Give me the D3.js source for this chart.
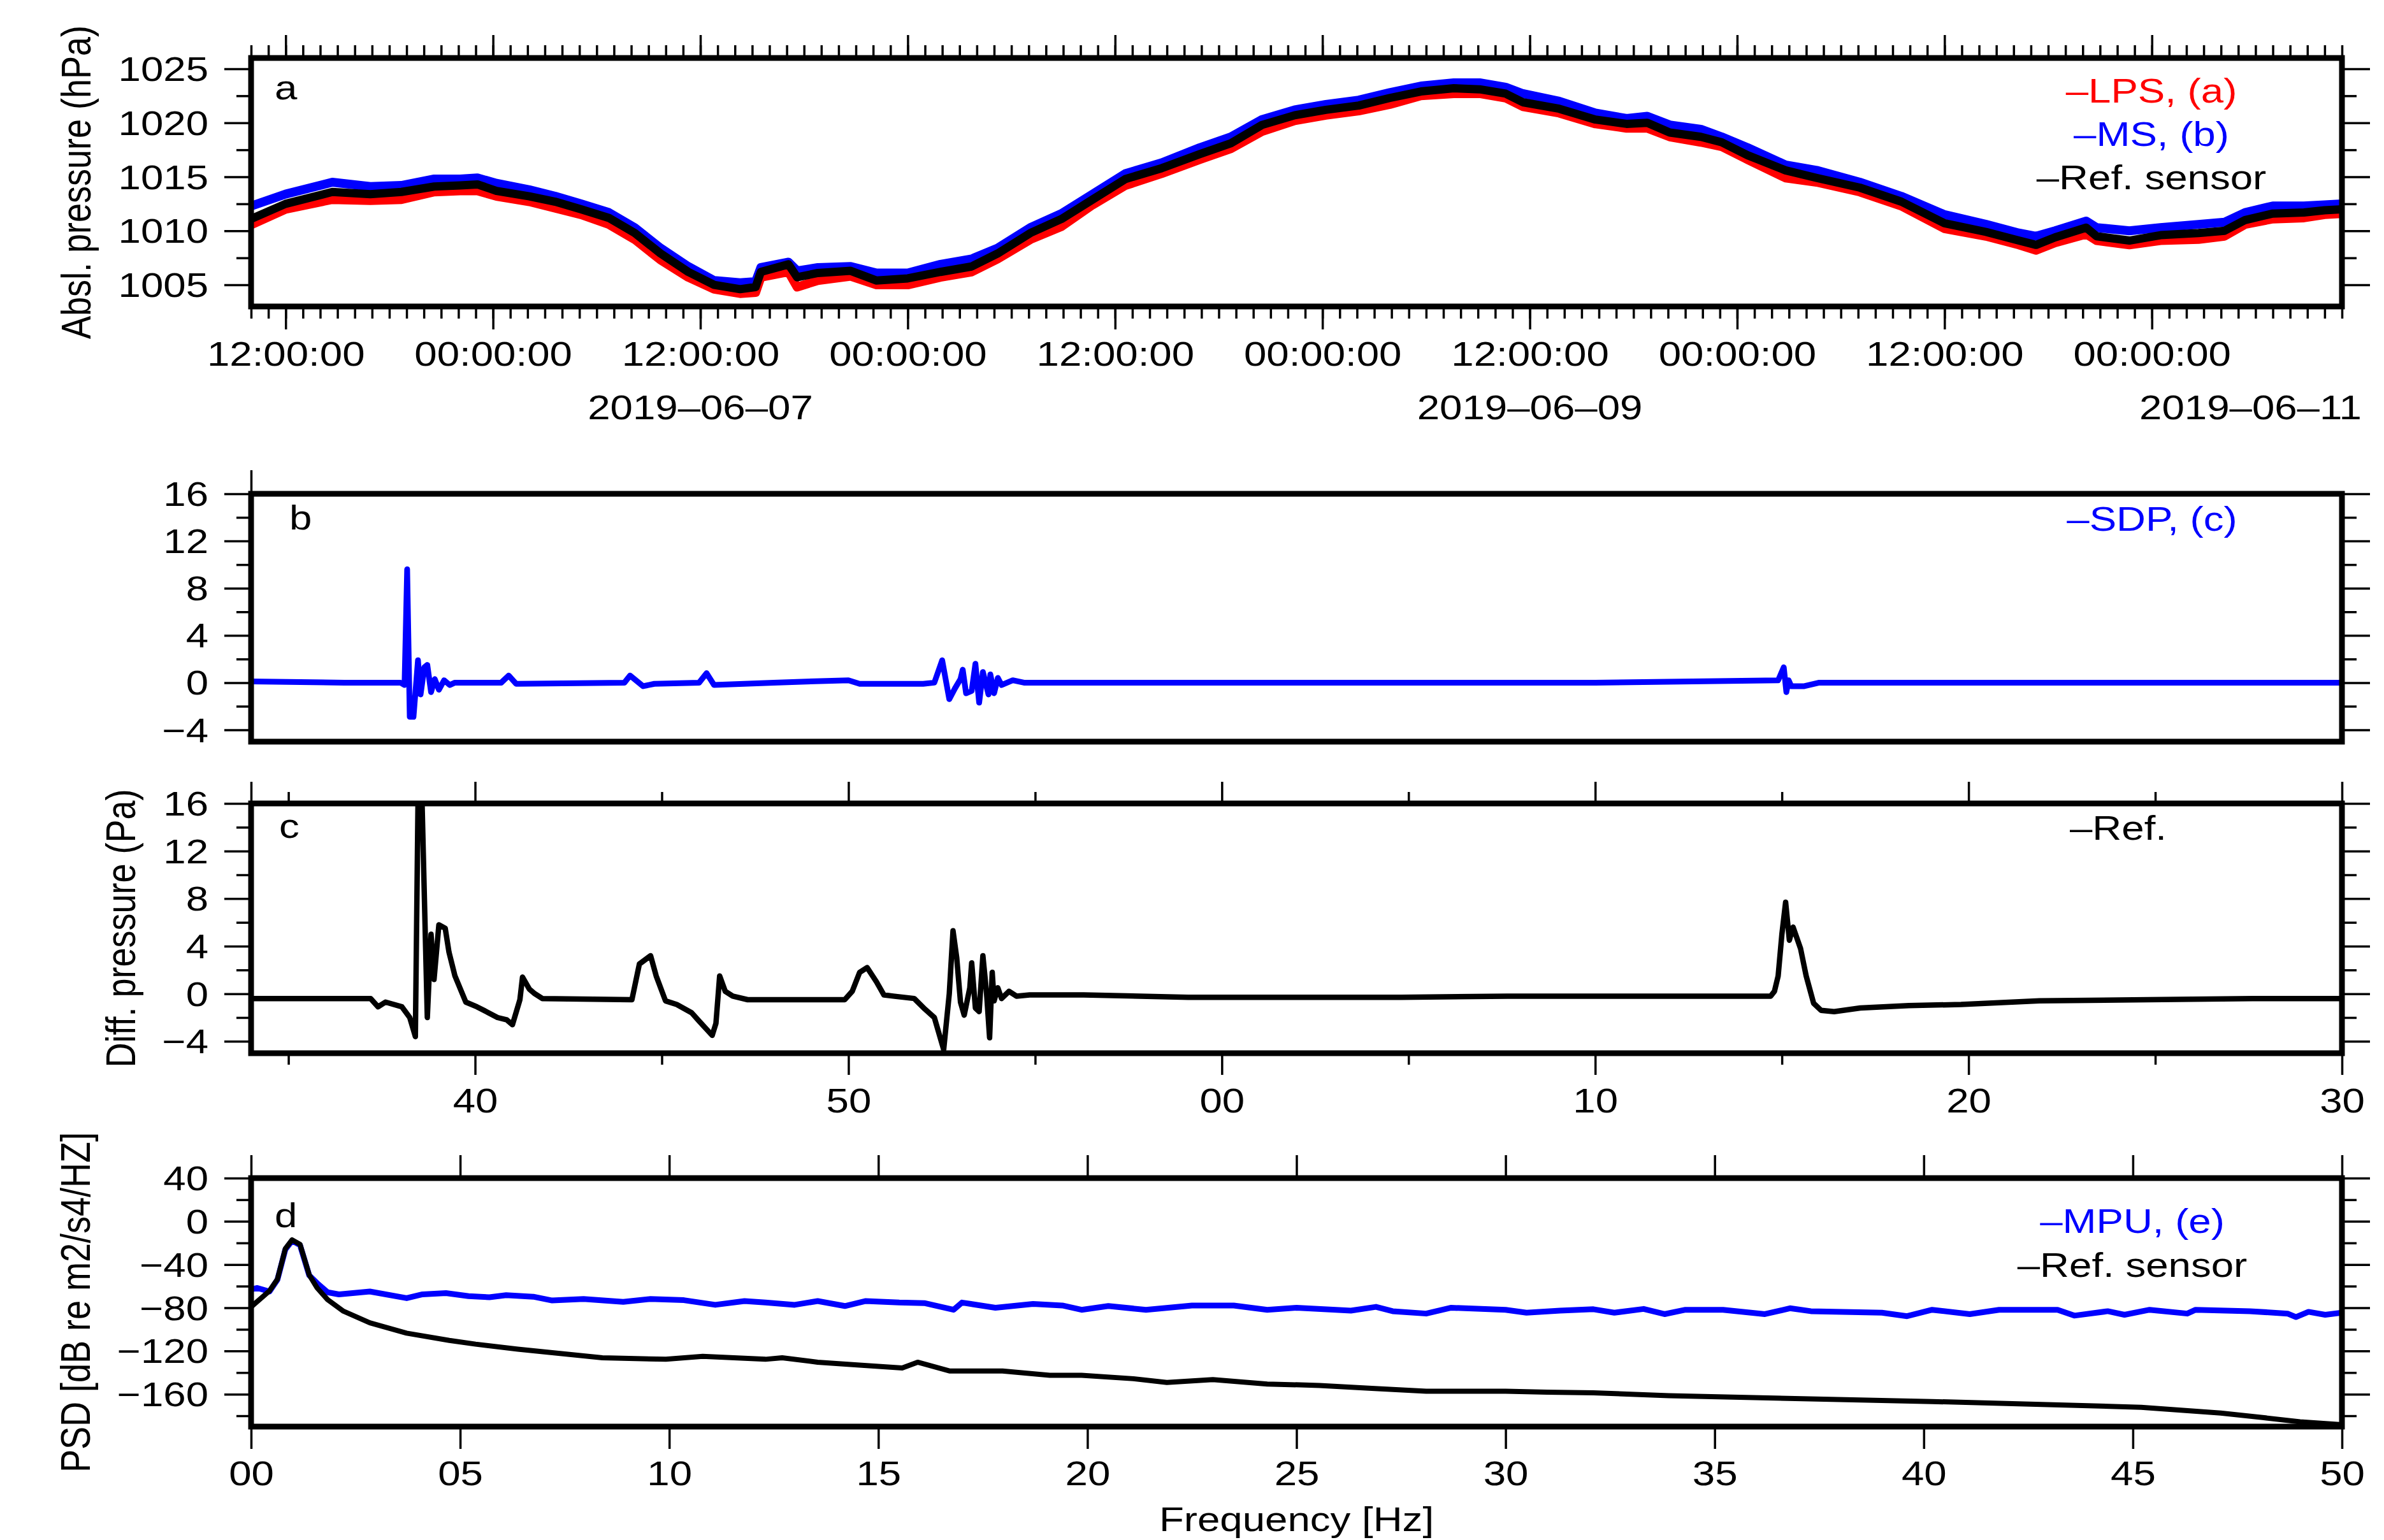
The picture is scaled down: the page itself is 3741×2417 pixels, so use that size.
<!DOCTYPE html>
<html>
<head>
<meta charset="utf-8">
<script src="https://cdn.jsdelivr.net/npm/d3@7"></script>
<style>
  body { margin: 0; background: #fff; }
  svg text { font-family: "Liberation Sans", Arial, Helvetica, sans-serif; }
</style>
</head>
<body>
<div id="chart"></div>
<script>
// ---- panel a: absolute pressure, hours since 2019-06-06 10:00 UTC
const absHours = [0, 2.0, 4.7, 6.9, 8.7, 10.6, 12.1, 13.1, 14.2, 16.1, 17.6, 19.1, 20.7, 22.2, 23.7, 25.3, 26.8, 28.3, 29.2, 29.5,
  31.1, 31.6, 32.8, 34.7, 36.2, 38.0, 39.9, 41.7, 43.2, 45.1, 46.9, 48.7, 50.6, 52.7, 54.9, 56.7, 58.5, 60.4, 62.2, 64.1,
  65.9, 67.7, 69.6, 71.1, 72.6, 73.6, 75.7, 77.8, 79.6, 80.8, 82.1, 83.9, 85.1, 86.6, 88.8, 90.6, 93.1, 95.5, 98.0, 100.4,
  102.3, 103.3, 104.4, 106.2, 106.8, 108.7, 110.5, 112.7, 114.2, 115.4, 117.0, 118.8, 120.0, 121.0];
const refAbs = [1011.1, 1012.5, 1013.6, 1013.4, 1013.6, 1014.1, 1014.2, 1014.3, 1013.7, 1013.2, 1012.7, 1012.0, 1011.2, 1009.8, 1007.9, 1006.2, 1005.0, 1004.6, 1004.8, 1006.2,
  1006.9, 1005.7, 1006.1, 1006.3, 1005.4, 1005.6, 1006.2, 1006.7, 1007.9, 1009.8, 1011.1, 1012.9, 1014.8, 1015.8, 1017.1, 1018.1, 1019.8, 1020.7, 1021.2, 1021.6,
  1022.3, 1022.9, 1023.2, 1023.1, 1022.7, 1021.9, 1021.3, 1020.3, 1019.9, 1020.0, 1019.1, 1018.7, 1018.2, 1017.0, 1015.6, 1014.9, 1014.0, 1012.7, 1010.7, 1009.9,
  1009.1, 1008.7, 1009.4, 1010.3, 1009.5, 1009.1, 1009.6, 1009.8, 1010.0, 1011.0, 1011.6, 1011.7, 1011.9, 1012.0];
const lpsAbs = [1010.55, 1012.0, 1012.9, 1012.8, 1012.9, 1013.6, 1013.7, 1013.7, 1013.2, 1012.7, 1012.1, 1011.5, 1010.6, 1009.2, 1007.3, 1005.7, 1004.6, 1004.2, 1004.3, 1005.7,
  1006.2, 1004.8, 1005.4, 1005.8, 1005.0, 1005.0, 1005.7, 1006.2, 1007.4, 1009.2, 1010.4, 1012.4, 1014.2, 1015.3, 1016.6, 1017.6, 1019.2, 1020.2, 1020.7, 1021.1,
  1021.7, 1022.5, 1022.7, 1022.7, 1022.3, 1021.5, 1020.9, 1019.9, 1019.5, 1019.5, 1018.7, 1018.2, 1017.8, 1016.6, 1014.9, 1014.5, 1013.6, 1012.3, 1010.2, 1009.5,
  1008.7, 1008.2, 1008.9, 1009.7, 1009.1, 1008.7, 1009.1, 1009.2, 1009.5, 1010.6, 1011.1, 1011.2, 1011.5, 1011.6];
const msAbs = [1012.3, 1013.4, 1014.5, 1014.1, 1014.2, 1014.8, 1014.8, 1014.9, 1014.4, 1013.8, 1013.2, 1012.5, 1011.7, 1010.3, 1008.4, 1006.7, 1005.4, 1005.2, 1005.3, 1006.6,
  1007.1, 1006.3, 1006.6, 1006.7, 1006.1, 1006.1, 1006.9, 1007.4, 1008.4, 1010.3, 1011.6, 1013.4, 1015.3, 1016.3, 1017.7, 1018.7, 1020.3, 1021.2, 1021.7, 1022.1,
  1022.8, 1023.4, 1023.7, 1023.7, 1023.3, 1022.7, 1022.0, 1020.9, 1020.4, 1020.6, 1019.8, 1019.4, 1018.7, 1017.7, 1016.1, 1015.6, 1014.5, 1013.2, 1011.5, 1010.6,
  1009.8, 1009.5, 1010.0, 1010.9, 1010.3, 1010.0, 1010.3, 1010.6, 1010.8, 1011.7, 1012.3, 1012.3, 1012.4, 1012.5];

// ---- panel b: SDP differential pressure (minutes, labels mod 60)
const sdpMin = [34, 36.5, 38.0, 38.11, 38.18, 38.25, 38.35, 38.47, 38.54, 38.64, 38.72, 38.82, 38.92, 39.03, 39.17, 39.32, 39.46, 40.7, 40.9, 41.1,
  44.0, 44.15, 44.5, 44.8, 46.0, 46.2, 46.4, 48.0, 50.0, 50.3, 52.0, 52.3, 52.51, 52.7, 52.85, 53.0, 53.06, 53.15, 53.3, 53.4,
  53.5, 53.6, 53.75, 53.8, 53.9, 54.0, 54.1, 54.4, 54.7, 60, 65, 70, 74.9, 75.05, 75.12, 75.18, 75.25, 75.4, 75.6, 76.0, 80, 85, 90];
const sdpPa = [0.1, 0.0, 0.0, -0.2, 9.6, -2.9, -2.9, 1.9, -1.0, 1.3, 1.5, -0.8, 0.3, -0.6, 0.2, -0.2, 0.0, 0.0, 0.6, -0.1,
  0.0, 0.6, -0.3, -0.1, 0.0, 0.8, -0.2, 0.0, 0.2, -0.1, -0.1, 0.0, 1.9, -1.4, -0.5, 0.3, 1.1, -0.9, -0.7, 1.6,
  -1.7, 0.9, -1.0, 0.7, -0.9, 0.4, -0.2, 0.2, 0.0, 0.0, 0.0, 0.0, 0.2, 1.3, -0.8, 0.2, -0.3, -0.3, -0.3, 0.0, 0.0, 0.0, 0.0];

// ---- panel c: reference differential pressure
const refMin = [34, 37.2, 37.4, 37.6, 38.04, 38.25, 38.4, 38.47, 38.58, 38.72, 38.82, 38.9, 39.03, 39.2, 39.3, 39.46, 39.75, 40.05, 40.3, 40.6,
  40.85, 41.0, 41.2, 41.27, 41.45, 41.6, 41.8, 44.2, 44.4, 44.7, 44.85, 45.1, 45.4, 45.8, 46.0, 46.35, 46.45, 46.55, 46.7, 46.9,
  47.3, 49.9, 50.1, 50.3, 50.5, 50.75, 50.95, 51.2, 51.76, 52.05, 52.3, 52.55, 52.7, 52.8, 52.9, 53.0, 53.1, 53.25, 53.3, 53.4,
  53.5, 53.6, 53.7, 53.78, 53.85, 53.9, 54.0, 54.1, 54.3, 54.5, 54.85, 56.3, 59.1, 62.0, 64.8, 67.65, 70.0, 74.7, 74.8, 74.9,
  75.0, 75.1, 75.2, 75.3, 75.5, 75.65, 75.85, 76.05, 76.4, 77.1, 78.4, 79.8, 81.9, 84.8, 87.6, 90];
const refPa = [-0.4, -0.4, -1.1, -0.7, -1.1, -2.0, -3.6, 16.0, 16.0, -2.0, 5.0, 1.2, 5.8, 5.5, 3.5, 1.5, -0.7, -1.1, -1.5, -2.0,
  -2.2, -2.6, -0.5, 1.4, 0.4, 0.0, -0.4, -0.5, 2.5, 3.2, 1.5, -0.6, -0.9, -1.6, -2.3, -3.5, -2.5, 1.5, 0.2, -0.2,
  -0.5, -0.5, 0.2, 1.8, 2.2, 1.0, -0.1, -0.2, -0.4, -1.3, -2.0, -4.7, 0.0, 5.3, 3.0, -0.7, -1.8, 0.5, 2.6, -1.2,
  -1.5, 3.2, 0.0, -3.7, 1.8, -0.6, 0.5, -0.4, 0.2, -0.2, -0.1, -0.1, -0.3, -0.3, -0.3, -0.2, -0.2, -0.2, 0.2, 1.5,
  5.0, 7.7, 4.5, 5.6, 3.8, 1.5, -0.8, -1.4, -1.5, -1.2, -1.0, -0.9, -0.6, -0.5, -0.4, -0.4];

// ---- panel d: PSD
const refFreq = [0.0, 0.44, 0.63, 0.82, 0.98, 1.17, 1.39, 1.58, 1.83, 2.21, 2.84, 3.72, 4.74, 5.37, 6.38, 7.39, 8.4, 9.92, 10.8, 12.3,
  12.7, 13.55, 14.55, 15.57, 15.94, 16.7, 17.97, 19.1, 19.86, 21.1, 21.9, 23.0, 24.3, 25.55, 26.8, 28.1, 30.0, 31.0, 32.1, 33.9,
  40.2, 45.2, 47.1, 48.1, 49.0, 50.0];
const refPsd = [-79.2, -64.4, -53.6, -25.3, -17.2, -21.3, -49.6, -61.7, -72.5, -83.2, -94.0, -103.5, -110.2, -113.7, -118.3, -122.3, -126.3, -127.7, -125.0, -127.7,
  -126.3, -130.4, -133.1, -135.8, -130.4, -138.5, -138.5, -142.5, -142.5, -145.7, -149.2, -146.5, -150.6, -151.9, -154.6, -157.3, -157.3, -158.1, -158.7, -161.4,
  -166.8, -172.1, -177.5, -181.6, -185.6, -188.3];
const mpuFreq = [0.0, 0.15, 0.44, 0.63, 0.82, 0.98, 1.17, 1.39, 1.6, 1.83, 2.1, 2.84, 3.72, 4.1, 4.66, 5.2, 5.7, 6.1, 6.75, 7.2,
  7.95, 8.9, 9.55, 10.35, 11.1, 11.8, 12.3, 13.0, 13.55, 14.2, 14.7, 15.5, 16.1, 16.8, 17.0, 17.8, 18.7, 19.4, 19.86, 20.5,
  21.4, 22.5, 23.5, 24.3, 25.0, 26.3, 26.9, 27.3, 28.1, 28.7, 30.0, 30.5, 31.3, 32.1, 32.6, 33.3, 33.8, 34.3, 35.2, 36.2,
  36.8, 37.3, 39.0, 39.6, 40.2, 41.1, 41.8, 43.2, 43.6, 44.4, 44.8, 45.4, 46.3, 46.5, 47.8, 48.7, 48.9, 49.2, 49.6, 50.0];
const mpuPsd = [-63, -61.7, -65, -54, -26, -18, -22, -50, -58, -65.7, -67.6, -65, -71.1, -67.6, -66.5, -69.2, -70.3, -68.4, -69.8, -73.3,
  -71.9, -74.6, -71.9, -73, -77.3, -73.8, -75.2, -77.3, -73.8, -78.4, -73.8, -75.2, -75.7, -81.9, -75.2, -80, -76.5, -77.9, -81.9, -78.4,
  -81.9, -77.9, -77.9, -81.9, -80, -82.7, -79.2, -83.2, -85.4, -80, -81.9, -84.6, -82.7, -81.4, -84.6, -81.1, -85.9, -81.9, -81.9, -85.9,
  -80.5, -83.2, -84.6, -87.8, -81.9, -85.9, -81.9, -81.9, -87.3, -83.2, -86.5, -81.9, -85.4, -81.9, -83.2, -85.4, -88.6, -83.8, -86.5, -84.6];

// ---- tick values / labels
const absTicks = [1005, 1010, 1015, 1020, 1025];
const absMinor = [1007.5, 1012.5, 1017.5, 1022.5];
const diffTicks = [-4, 0, 4, 8, 12, 16];
const diffMinor = [-2, 2, 6, 10, 14];
const minuteMajor = [40, 50, 60, 70, 80, 90];
const minuteMinor = [35, 45, 55, 65, 75, 85];
const psdTicks = [-160, -120, -80, -40, 0, 40];
const psdMinor = [-180, -140, -100, -60, -20, 20];
const freqTicks = [0, 5, 10, 15, 20, 25, 30, 35, 40, 45, 50];
const dateLabels = ['2019-06-07T12:00Z', '2019-06-09T12:00Z', '2019-06-11T12:00Z'];

const W = 3741, H = 2417;
const SX = 1.2;      // the lettering in the original is stretched horizontally
const FS = 53;
const X0 = 394, X1 = 3675;
const LW_BOX = 9, LW_TICK = 3.5;

const svg = d3.select('#chart').append('svg')
  .attr('width', W)
  .attr('height', H)
  .style('background', '#fff');

const t0 = Date.UTC(2019, 5, 6, 10);
const xA = d3.scaleUtc()
  .domain([new Date(t0), new Date(t0 + 121 * 3600e3)])
  .range([X0, X1]);
const xMin = d3.scaleLinear().domain([34, 90]).range([X0, X1]);
const xF = d3.scaleLinear().domain([0, 50]).range([X0, X1]);

const yA = d3.scaleLinear().domain([1003, 1026]).range([481, 91]);
const yB = d3.scaleLinear().domain([-5, 16]).range([1164, 775]);
const yC = d3.scaleLinear().domain([-5, 16]).range([1653, 1261]);
const yD = d3.scaleLinear().domain([-190, 40]).range([2239, 1849]);

const minuteFmt = d => String(d % 60).padStart(2, '0');

// axis helper: draws ticks (no domain line) and stretches the labels
function axis(gen, x, y, opts = {}) {
  const g = svg.append('g').attr('transform', `translate(${x},${y})`).call(gen);
  g.select('.domain').remove();
  g.selectAll('.tick line').attr('stroke', '#000').attr('stroke-width', LW_TICK);
  const txt = g.selectAll('.tick text')
    .attr('font-size', FS)
    .style('fill', '#000')
    .attr('transform', `scale(${SX},1)`);
  if (opts.bottom != null) txt.attr('y', opts.bottom).attr('dy', 0);
  if (opts.left != null) txt.attr('x', -opts.left / SX).attr('dy', '0.35em');
  return g;
}

function yAxes(scale, major, minor, fmt) {
  axis(d3.axisLeft(scale).tickValues(minor).tickSize(23).tickFormat(''), X0, 0);
  axis(d3.axisLeft(scale).tickValues(major).tickSize(42).tickFormat(fmt), X0, 0, { left: X0 - 327 });
  axis(d3.axisRight(scale).tickValues(minor).tickSize(23).tickFormat(''), X1, 0);
  axis(d3.axisRight(scale).tickValues(major).tickSize(44).tickFormat(''), X1, 0);
}

function clip(id, scale) {
  const [b, t] = scale.range();
  svg.append('clipPath').attr('id', id)
    .append('rect').attr('x', X0).attr('y', t).attr('width', X1 - X0).attr('height', b - t);
}

function series(xs, ys, xScale, yScale, color, width, clipId) {
  const pts = xs.map((v, i) => [v, ys[i]]);
  svg.append('path')
    .datum(pts)
    .attr('clip-path', `url(#${clipId})`)
    .attr('fill', 'none')
    .attr('stroke', color)
    .attr('stroke-width', width)
    .attr('stroke-linejoin', 'round')
    .attr('stroke-linecap', 'round')
    .attr('d', d3.line().x(d => xScale(d[0])).y(d => yScale(d[1])));
}

function box(scale) {
  const [b, t] = scale.range();
  svg.append('rect')
    .attr('x', X0).attr('y', t).attr('width', X1 - X0).attr('height', b - t)
    .attr('fill', 'none').attr('stroke', '#000').attr('stroke-width', LW_BOX);
}

function label(text, x, y, color = '#000', anchor = 'start') {
  return svg.append('text')
    .attr('transform', `translate(${x},${y}) scale(${SX},1)`)
    .attr('text-anchor', anchor)
    .attr('font-size', FS)
    .style('fill', color)
    .text(text);
}

function yTitle(text, x, y) {
  svg.append('text')
    .attr('transform', `translate(${x},${y}) scale(${SX},1) rotate(-90)`)
    .attr('text-anchor', 'middle')
    .attr('font-size', 54)
    .style('fill', '#000')
    .text(text);
}

// ================= panel a =================
clip('clip-a', yA);
const hourDate = h => new Date(t0 + h * 3600e3);
const absX = absHours.map(hourDate);
series(absX, lpsAbs, xA, yA, '#ff0000', 14, 'clip-a');
series(absX, msAbs, xA, yA, '#0000ff', 14, 'clip-a');
series(absX, refAbs, xA, yA, '#000000', 13, 'clip-a');
box(yA);

const hourly = xA.ticks(d3.utcHour.every(1));
const halfDay = xA.ticks(d3.utcHour.every(12));
axis(d3.axisBottom(xA).tickValues(hourly).tickSize(19).tickFormat(''), 0, yA.range()[0]);
axis(d3.axisBottom(xA).tickValues(halfDay).tickSize(36).tickFormat(d3.utcFormat('%H:%M:%S')), 0, yA.range()[0], { bottom: 93 });
axis(d3.axisTop(xA).tickValues(hourly).tickSize(20).tickFormat(''), 0, yA.range()[1]);
axis(d3.axisTop(xA).tickValues(halfDay).tickSize(36).tickFormat(''), 0, yA.range()[1]);
yAxes(yA, absTicks, absMinor, d3.format('d'));

const dateFmt = d3.utcFormat('%Y-%m-%d');
const dateRightLimit = X1 + 31;
dateLabels.forEach(s => {
  const d = new Date(s);
  const t = label(dateFmt(d).replace(/-/g, '\u2013'), xA(d), 658, '#000', 'middle');
  const w = t.node().getComputedTextLength() * SX;
  const cx = Math.min(xA(d), dateRightLimit - w / 2);
  t.attr('transform', `translate(${cx},658) scale(${SX},1)`);
});

label('a', 431, 156);
[['\u2013LPS, (a)', '#ff0000'], ['\u2013MS, (b)', '#0000ff'], ['\u2013Ref. sensor', '#000']]
  .forEach(([txt, c], i) => label(txt, 3376, yA.range()[1] + 70 + i * 68, c, 'middle'));
yTitle('Absl. pressure (hPa)', 142, d3.mean(yA.range()));

// ================= panel b =================
clip('clip-b', yB);
series(sdpMin, sdpPa, xMin, yB, '#0000ff', 9, 'clip-b');
box(yB);
axis(d3.axisTop(xMin).tickValues([34]).tickSize(37).tickFormat(''), 0, yB.range()[1]);
yAxes(yB, diffTicks, diffMinor, d3.format('d'));
label('b', 454, 831);
label('\u2013SDP, (c)', 3377, yB.range()[1] + 58, '#0000ff', 'middle');

// ================= panel c =================
clip('clip-c', yC);
series(refMin, refPa, xMin, yC, '#000000', 8.5, 'clip-c');
box(yC);
axis(d3.axisTop(xMin).tickValues([34].concat(minuteMajor)).tickSize(34).tickFormat(''), 0, yC.range()[1]);
axis(d3.axisTop(xMin).tickValues(minuteMinor).tickSize(18).tickFormat(''), 0, yC.range()[1]);
axis(d3.axisBottom(xMin).tickValues(minuteMajor).tickSize(34).tickFormat(minuteFmt), 0, yC.range()[0], { bottom: 93 });
axis(d3.axisBottom(xMin).tickValues(minuteMinor).tickSize(18).tickFormat(''), 0, yC.range()[0]);
yAxes(yC, diffTicks, diffMinor, d3.format('d'));
label('c', 438, 1315);
label('\u2013Ref.', 3324, yC.range()[1] + 57, '#000', 'middle');
yTitle('Diff. pressure (Pa)', 212, d3.mean(yC.range()));

// ================= panel d =================
clip('clip-d', yD);
series(mpuFreq, mpuPsd, xF, yD, '#0000ff', 9, 'clip-d');
series(refFreq, refPsd, xF, yD, '#000000', 8, 'clip-d');
box(yD);
axis(d3.axisTop(xF).tickValues(freqTicks).tickSize(36).tickFormat(''), 0, yD.range()[1]);
axis(d3.axisBottom(xF).tickValues(freqTicks).tickSize(35).tickFormat(d => String(d).padStart(2, '0')), 0, yD.range()[0], { bottom: 92 });
yAxes(yD, psdTicks, psdMinor, d3.format('d'));
label('d', 431, 1926);
[['\u2013MPU, (e)', '#0000ff'], ['\u2013Ref. sensor', '#000']]
  .forEach(([txt, c], i) => label(txt, 3346, yD.range()[1] + 86 + i * 69, c, 'middle'));
yTitle('PSD [dB re m2/s4/HZ]', 141, d3.mean(yD.range()));
label('Frequency [Hz]', d3.mean(xF.range()), 2403, '#000', 'middle');
</script>
</body>
</html>
